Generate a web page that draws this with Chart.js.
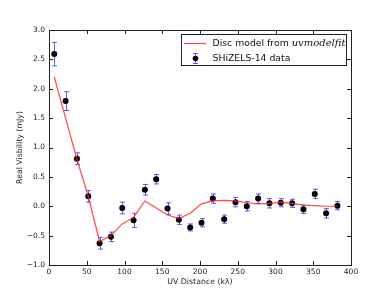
<!DOCTYPE html>
<html>
<head>
<meta charset="utf-8">
<script src="https://cdn.jsdelivr.net/npm/chart.js@4.4.0/dist/chart.umd.min.js"></script>
<style>
  html, body { margin: 0; padding: 0; background: #fff; }
  #wrap { width: 390px; height: 295px; }
</style>
</head>
<body>
<div id="wrap"><canvas id="grafico" width="390" height="295"></canvas></div>
<script>
// uv distance of each bin (kλ)
const uvDist = [7, 22, 37, 52, 67, 82, 97, 112, 127, 142, 157, 172, 187, 202, 217, 232, 247, 262, 277, 292, 307, 322, 337, 352, 367, 382];
// measured real visibility (mJy) and 1-sigma errors
const realVis = [2.59, 1.79, 0.81, 0.17, -0.63, -0.52, -0.03, -0.24, 0.28, 0.46, -0.04, -0.23, -0.36, -0.28, 0.13, -0.22, 0.07, 0.00, 0.13, 0.05, 0.06, 0.05, -0.05, 0.21, -0.12, 0.01];
const visErr = [0.20, 0.16, 0.10, 0.10, 0.10, 0.08, 0.10, 0.12, 0.09, 0.08, 0.10, 0.08, 0.06, 0.07, 0.08, 0.07, 0.08, 0.08, 0.08, 0.08, 0.07, 0.07, 0.07, 0.08, 0.08, 0.07];
// disc model from uvmodelfit
const modelVis = [2.20, 1.50, 0.80, 0.17, -0.60, -0.50, -0.30, -0.19, 0.09, -0.03, -0.15, -0.21, -0.12, 0.04, 0.09, 0.10, 0.09, 0.06, 0.04, 0.05, 0.07, 0.05, 0.02, 0.01, 0.00, 0.00];

const xTicks = [0, 50, 100, 150, 200, 250, 300, 350, 400];
const yTicks = [-1, -0.5, 0, 0.5, 1, 1.5, 2, 2.5, 3];

const labelModel = "Disc model from ";
const labelModelMath = "uvmodelfit";
const labelData = "SHiZELS-14 data";

const corErro = "rgba(40, 40, 255, 0.75)";
const fonteTick = { family: "DejaVu Sans", size: 7.5 };

// barras de erro, desenhadas antes dos pontos
const errorBars = {
    id: "errorBars",
    beforeDatasetsDraw(chart) {
        const ctx = chart.ctx;
        const x = chart.scales.x, y = chart.scales.y;
        ctx.save();
        ctx.strokeStyle = corErro;
        ctx.lineWidth = 1;
        for (let i = 0; i < uvDist.length; i++) {
            const px = Math.round(x.getPixelForValue(uvDist[i])) + 0.5;
            const top = y.getPixelForValue(realVis[i] + visErr[i]);
            const bot = y.getPixelForValue(realVis[i] - visErr[i]);
            ctx.beginPath();
            ctx.moveTo(px, top); ctx.lineTo(px, bot);
            ctx.moveTo(px - 2.5, top); ctx.lineTo(px + 2.5, top);
            ctx.moveTo(px - 2.5, bot); ctx.lineTo(px + 2.5, bot);
            ctx.stroke();
        }
        ctx.restore();
    }
};

// moldura, ticks internos e legenda no estilo matplotlib
const moldura = {
    id: "moldura",
    afterDraw(chart) {
        const ctx = chart.ctx;
        const a = chart.chartArea;
        const x = chart.scales.x, y = chart.scales.y;
        ctx.save();
        ctx.strokeStyle = "#222";
        ctx.lineWidth = 1;
        ctx.strokeRect(Math.round(a.left) + 0.5, Math.round(a.top) + 0.5, Math.round(a.right - a.left), Math.round(a.bottom - a.top));
        ctx.beginPath();
        for (const v of xTicks) {
            const px = Math.round(x.getPixelForValue(v)) + 0.5;
            ctx.moveTo(px, a.bottom); ctx.lineTo(px, a.bottom - 4);
            ctx.moveTo(px, a.top); ctx.lineTo(px, a.top + 4);
        }
        for (const v of yTicks) {
            const py = Math.round(y.getPixelForValue(v)) + 0.5;
            ctx.moveTo(a.left, py); ctx.lineTo(a.left + 4, py);
            ctx.moveTo(a.right, py); ctx.lineTo(a.right - 4, py);
        }
        ctx.stroke();

        // legenda
        const lx = 181.5, ly = 34.5, lw = 165, lh = 31;
        ctx.fillStyle = "#fff";
        ctx.fillRect(lx, ly, lw, lh);
        ctx.strokeStyle = "#222";
        ctx.strokeRect(lx, ly, lw, lh);

        ctx.strokeStyle = "rgba(255, 40, 40, 0.85)";
        ctx.lineWidth = 1.2;
        ctx.beginPath();
        ctx.moveTo(184, 43.5); ctx.lineTo(206, 43.5);
        ctx.stroke();

        ctx.strokeStyle = corErro;
        ctx.lineWidth = 1;
        ctx.beginPath();
        ctx.moveTo(195.5, 53.5); ctx.lineTo(195.5, 63.5);
        ctx.moveTo(193, 53.5); ctx.lineTo(198, 53.5);
        ctx.moveTo(193, 63.5); ctx.lineTo(198, 63.5);
        ctx.stroke();
        ctx.fillStyle = "#000";
        ctx.beginPath();
        ctx.arc(195.5, 58.5, 2.8, 0, Math.PI * 2);
        ctx.fill();

        ctx.fillStyle = "#111";
        ctx.textBaseline = "middle";
        ctx.textAlign = "left";
        ctx.font = "9.3px 'DejaVu Sans'";
        ctx.fillText(labelModel, 212.5, 43.5);
        const w = ctx.measureText(labelModel).width;
        ctx.font = "italic 10px 'DejaVu Serif'";
        ctx.fillText(labelModelMath, 212.5 + w, 43.5);
        ctx.font = "9.3px 'DejaVu Sans'";
        ctx.fillText(labelData, 212.5, 58.5);
        ctx.restore();
    }
};

new Chart(document.getElementById("grafico"), {
    type: "scatter",
    data: {
        datasets: [{
            label: labelModel + labelModelMath,
            data: uvDist.map((u, i) => ({ x: u, y: modelVis[i] })),
            showLine: true,
            borderColor: "rgba(255, 40, 40, 0.85)",
            borderWidth: 1.2,
            pointRadius: 0,
            tension: 0
        }, {
            label: labelData,
            data: uvDist.map((u, i) => ({ x: u, y: realVis[i] })),
            backgroundColor: "#000",
            borderColor: "#000",
            pointRadius: 3,
            pointBorderWidth: 0
        }]
    },
    options: {
        responsive: false,
        animation: false,
        devicePixelRatio: 1,
        layout: { padding: { top: 30, right: 39, left: 0, bottom: 0 } },
        plugins: { legend: { display: false }, tooltip: { enabled: false } },
        scales: {
            x: {
                type: "linear",
                min: 0, max: 400,
                afterBuildTicks: (s) => { s.ticks = xTicks.map(v => ({ value: v })); },
                afterFit: (s) => { s.height = 30; },
                grid: { display: false, drawTicks: false },
                border: { display: false },
                ticks: { font: fonteTick, color: "#222", padding: 3, autoSkip: false, maxRotation: 0 },
                title: { display: true, text: "UV Distance (kλ)", font: { family: "DejaVu Sans", size: 7.8 }, color: "#222", padding: { top: 0, bottom: 8 } }
            },
            y: {
                type: "linear",
                min: -1, max: 3,
                afterBuildTicks: (s) => { s.ticks = yTicks.map(v => ({ value: v })); },
                afterFit: (s) => { s.width = 49; },
                grid: { display: false, drawTicks: false },
                border: { display: false },
                ticks: {
                    font: fonteTick, color: "#222", padding: 4, autoSkip: false,
                    callback: (v) => v.toFixed(1).replace("-", "\u2212")
                },
                title: { display: true, text: "Real Visbility (mJy)", font: { family: "DejaVu Sans", size: 7.8 }, color: "#222", padding: { top: 15, bottom: 0 } }
            }
        }
    },
    plugins: [errorBars, moldura]
});
</script>
</body>
</html>
